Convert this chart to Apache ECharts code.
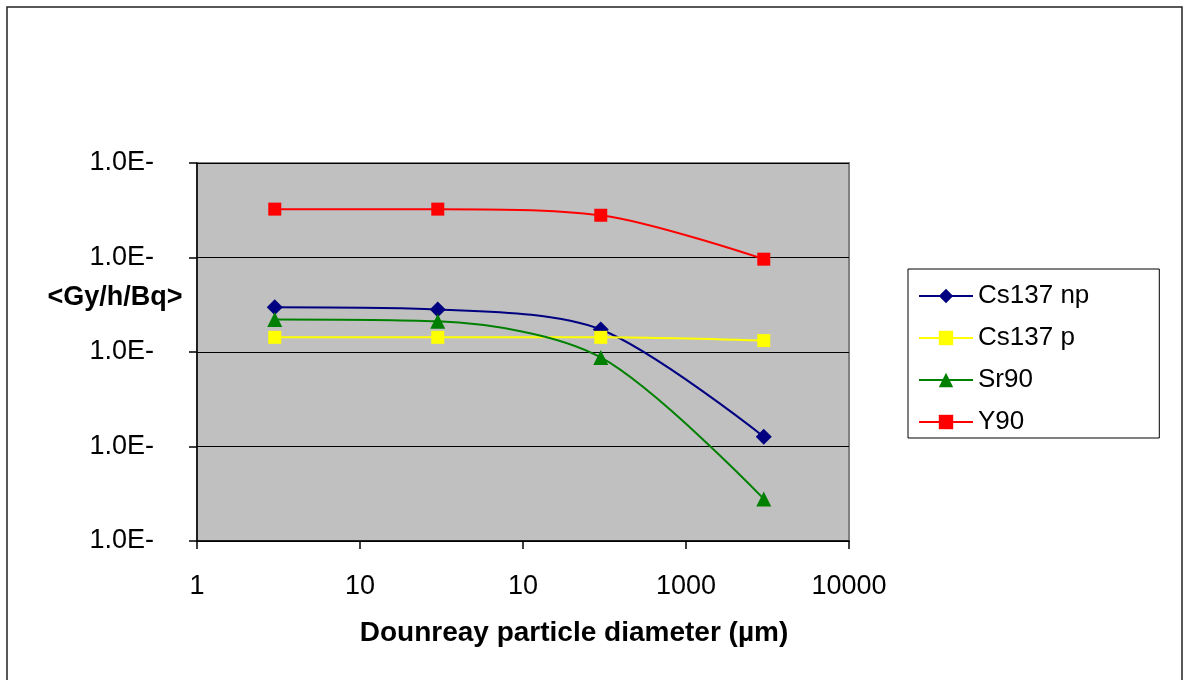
<!DOCTYPE html>
<html>
<head>
<meta charset="utf-8">
<script src="https://cdn.jsdelivr.net/npm/echarts@6/dist/echarts.min.js"></script>
<style>
html,body{margin:0;padding:0;background:#fff;}
#chart{width:1185px;height:680px;}
</style>
</head>
<body>
<div id="chart"></div>
<script>
// ---- data ----
const diameters = [3, 30, 300, 3000];
const seriesNames = ['Cs137 np', 'Cs137 p', 'Sr90', 'Y90'];
const cs137np = [2.97e-10, 2.82e-10, 1.73e-10, 1.27e-11];
const cs137p  = [1.43e-10, 1.43e-10, 1.43e-10, 1.32e-10];
const sr90    = [2.21e-10, 2.11e-10, 8.75e-11, 2.79e-12];
const y90     = [3.25e-9, 3.25e-9, 2.80e-9, 9.6e-10];
const xTickLabels = ['1', '10', '10', '1000', '10000'];
const yTickLabels = ['1.0E-', '1.0E-', '1.0E-', '1.0E-', '1.0E-'];
const xTitle = 'Dounreay particle diameter (µm)';
const yTitle = '<Gy/h/Bq>';

const FONT = "'Liberation Sans', Arial, sans-serif";
const pairs = (ys) => diameters.map((x, i) => [x, ys[i]]);

const styles = [
  {color: '#000080', symbol: 'diamond', size: 16},
  {color: '#FFFF00', symbol: 'rect', size: 13},
  {color: '#008000', symbol: 'triangle', size: 15},
  {color: '#FF0000', symbol: 'rect', size: 13}
];
const values = [cs137np, cs137p, sr90, y90];

const chart = echarts.init(document.getElementById('chart'), null, {renderer: 'canvas'});
chart.setOption({
  animation: false,
  backgroundColor: '#fff',
  textStyle: {fontFamily: FONT},
  graphic: [
    {type: 'rect', shape: {x: 7, y: 7, width: 1175, height: 700},
     style: {fill: 'none', stroke: '#222', lineWidth: 1.5}, silent: true, z: 0},
    {type: 'text', x: 115, y: 298,
     style: {text: yTitle, font: "bold 27px " + FONT, fill: '#000', textAlign: 'center', textVerticalAlign: 'middle'}},
    {type: 'text', x: 574, y: 633,
     style: {text: xTitle, font: "bold 28px " + FONT, fill: '#000', textAlign: 'center', textVerticalAlign: 'middle'}}
  ],
  grid: {
    left: 197, top: 163, right: 336, bottom: 139,
    show: true, backgroundColor: '#C0C0C0', borderColor: '#808080', borderWidth: 2
  },
  legend: {
    orient: 'vertical',
    left: 908, top: 269,
    backgroundColor: '#fff', borderColor: '#000', borderWidth: 1,
    padding: [12, 70, 1, 10],
    itemWidth: 54, itemHeight: 18, itemGap: 12,
    textStyle: {fontSize: 26, color: '#000', fontFamily: FONT, lineHeight: 30},
    data: seriesNames
  },
  xAxis: {
    type: 'log', logBase: 10, min: 1, max: 10000, interval: 1,
    axisLine: {show: true, onZero: false, lineStyle: {color: '#000', width: 1.5}},
    axisTick: {show: true, inside: false, length: 8, lineStyle: {color: '#000', width: 1.5}},
    minorTick: {show: false},
    splitLine: {show: false},
    axisLabel: {
      fontSize: 27, color: '#000', margin: 32, fontFamily: FONT,
      formatter: (v) => xTickLabels[Math.round(Math.log10(v))]
    }
  },
  yAxis: {
    type: 'log', logBase: 10, min: 1e-12, max: 1e-8, interval: 1,
    axisLine: {show: true, onZero: false, lineStyle: {color: '#000', width: 1.5}},
    axisTick: {show: true, inside: false, length: 8, lineStyle: {color: '#000', width: 1.5}},
    splitLine: {show: true, lineStyle: {color: '#000', width: 1}},
    axisLabel: {
      fontSize: 27, color: '#000', margin: 43, fontFamily: FONT,
      formatter: (v) => yTickLabels[Math.round(Math.log10(v)) + 12]
    }
  },
  series: seriesNames.map((name, i) => ({
    name: name,
    type: 'line',
    data: pairs(values[i]),
    smooth: 0.3,
    symbol: styles[i].symbol,
    symbolSize: styles[i].size,
    showAllSymbol: true,
    lineStyle: {color: styles[i].color, width: 2},
    itemStyle: {color: styles[i].color},
    z: 3 + i
  }))
});
</script>
</body>
</html>
